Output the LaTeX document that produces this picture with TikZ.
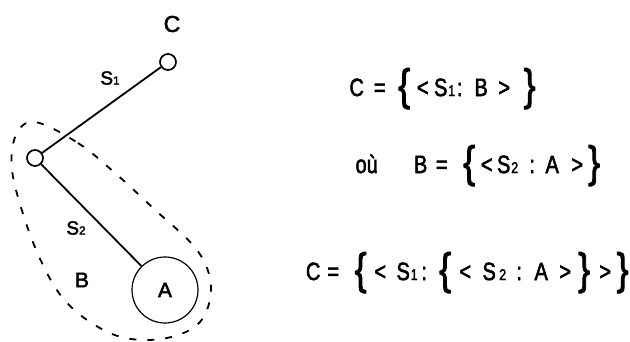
\documentclass[tikz,border=0pt]{standalone}
\usepackage{graphicx}
\usepackage{fontspec}
\setmainfont{Liberation Sans}[FakeBold=2.4]
% glyph #2 centred at offset #1 (pt) from the start of the line
\newcommand\at[2]{\makebox[0pt][l]{\hspace{#1pt}\makebox[0pt][c]{\scalebox{0.8}[1]{#2}}}}
\newcommand\lbr{{\fontsize{44}{44}\selectfont\raisebox{-4pt}{\{}}}
\newcommand\rbr{{\fontsize{44}{44}\selectfont\raisebox{-4pt}{\}}}}
\newcommand\sub[1]{{\fontsize{0.62em}{0.62em}\selectfont #1}}
\begin{document}
\begin{tikzpicture}[x=1pt,y=-1pt,
  vertex/.style={circle,draw,line width=1.7pt,minimum size=16pt,inner sep=0pt},
  leaf/.style={circle,draw,line width=1.2pt,minimum size=66pt,inner sep=0pt,font=\fontsize{21}{21}\selectfont},
  edge/.style={line width=1.8pt},
  lbl/.style={font=\fontsize{19}{19}\selectfont,inner sep=0pt},
  formula/.style={anchor=base west,inner sep=0pt,font=\fontsize{25}{25}\selectfont},
  group/.style={line width=1.8pt,dash pattern=on 7pt off 11pt}]
\useasboundingbox (0,0) rectangle (630,341);
\node[vertex] (top) at (168,62) {};
\node[vertex] (mid) at (35,158) {};
\node[leaf] (A) at (165,290) {A};
\node[lbl,font=\fontsize{23}{23}\selectfont] (lc) at (172,24) {C};
\node[lbl] (ls1) at (110,78) {S\sub{1}};
\node[lbl] (ls2) at (76,228) {S\sub{2}};
\node[lbl,font=\fontsize{21}{21}\selectfont] (lb) at (82,280) {B};
\draw[edge] (top) -- (mid);
\draw[edge] (mid) -- (A);
\draw[group] plot[smooth cycle,tension=0.6] coordinates {(35,122) (78,143) (115,173) (153,208) (197,250) (211,287) (200,322) (167,338) (125,338) (90,322) (62,297) (42,263) (25,220) (12,170) (16,135)};
\node[formula] (f1) at (350,96) {\at{6}{C}\at{29}{=}\at{53.5}{\lbr}\at{72}{<}\at{90}{S}\at{101}{\sub{1}}\at{109}{:}\at{130.5}{B}\at{153.5}{>}\at{179}{\rbr}\hspace{185pt}};
\node[formula] (f2) at (355,173) {\at{11}{où}\at{65}{B}\at{86}{=}\at{113.5}{\lbr}\at{131}{<}\at{148}{S}\at{159}{\sub{2}}\at{176.5}{:}\at{196.5}{A}\at{221.5}{>}\at{238.5}{\rbr}\hspace{245pt}};
\node[formula] (f3) at (307,280) {\at{5.5}{C}\at{25.5}{=}\at{53}{\lbr}\at{72.5}{<}\at{95.5}{S}\at{106.5}{\sub{1}}\at{116.5}{:}\at{137.5}{\lbr}\at{157.5}{<}\at{181.5}{S}\at{195}{\sub{2}}\at{211.5}{:}\at{233.5}{A}\at{257.5}{>}\at{276.5}{\rbr}\at{297.5}{>}\at{315}{\rbr}\hspace{320pt}};
\end{tikzpicture}
\end{document}
